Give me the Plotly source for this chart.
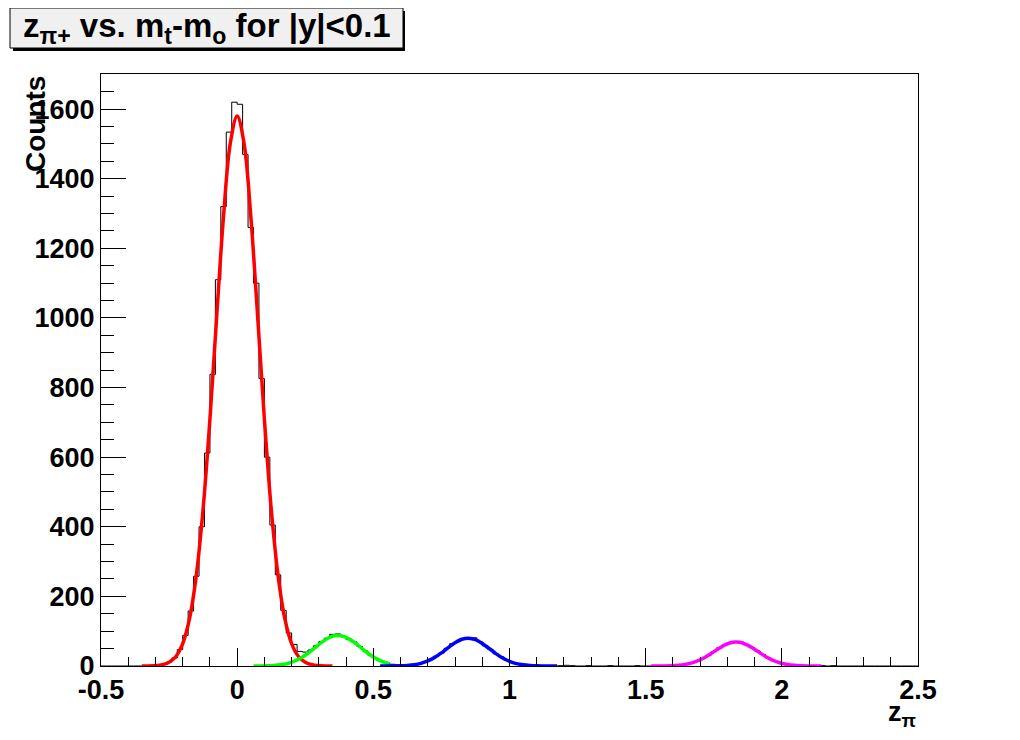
import plotly.graph_objects as go

# ---------------- data ----------------
bin_lo, bin_hi, n_bins = -0.5, 2.5, 150
counts = [
    0, 0, 0, 0, 0, 0, 0, 0,
    0, 1, 2, 5, 11, 23, 47, 88, 158, 258, 400, 612, 838, 1110, 1320, 1534,
    1620, 1614, 1470, 1260, 1100, 826, 600, 405, 262, 160, 95, 62, 42, 40,
    46, 58, 70, 80, 91, 92, 84, 76, 69, 56, 43, 31, 22, 13, 9, 5, 3, 2,
    2, 4, 7, 12, 18, 28, 37, 51, 64, 70, 79, 79, 81, 70, 58, 48, 35, 26,
    16, 10, 6, 3, 2, 1, 1,
    0, 1, 0, 1, 2, 1, 0, 0, 1, 0, 0, 0, 1, 0, 0, 0, 0, 1, 0, 0, 0, 1, 0, 1,
    1, 3, 5, 9, 14, 22, 30, 41, 52, 60, 66, 70, 68, 61, 53, 43, 33, 23, 15,
    10, 6, 3, 2, 1, 0,
    0, 1, 1, 0, 1, 0, 0, 0, 0, 0, 0, 0, 0, 0, 0, 0, 0, 0, 0, 0,
]

red_x = [-0.35, -0.325, -0.3, -0.275, -0.25, -0.225, -0.2, -0.175, -0.15, -0.125,
         -0.1, -0.075, -0.05, -0.025, 0.0, 0.025, 0.05, 0.075, 0.1, 0.125, 0.15,
         0.175, 0.2, 0.225, 0.25, 0.275, 0.3, 0.325, 0.35]
red_y = [0.1, 0.3, 1.2, 3.7, 10.6, 27.3, 64, 136, 261, 452, 709, 1007, 1293, 1503,
         1580, 1503, 1293, 1007, 709, 452, 261, 136, 64, 27.3, 10.6, 3.7, 1.2, 0.3, 0.1]

green_x = [0.06, 0.085, 0.11, 0.135, 0.16, 0.185, 0.21, 0.235, 0.26, 0.285, 0.31,
           0.335, 0.36, 0.385, 0.41, 0.435, 0.46, 0.485, 0.51, 0.535, 0.56]
green_y = [0.08, 0.24, 0.65, 1.6, 3.6, 7.3, 13.7, 23.4, 36.6, 52.1, 68, 80.5, 87.4,
           86.6, 78, 64.8, 48.9, 33.7, 21.2, 12.2, 6.4]

blue_x = [0.525, 0.55, 0.575, 0.6, 0.625, 0.65, 0.675, 0.7, 0.725, 0.75, 0.775, 0.8,
          0.825, 0.85, 0.875, 0.9, 0.925, 0.95, 0.975, 1.0, 1.025, 1.05, 1.075, 1.1,
          1.125, 1.15, 1.175]
blue_y = [0.02, 0.08, 0.24, 0.65, 1.6, 3.7, 7.7, 14.5, 24.5, 37.8, 52.8, 66.8, 76.8,
          80, 75.6, 64.8, 50.3, 35.5, 22.7, 13.2, 6.9, 3.3, 1.4, 0.56, 0.2, 0.07, 0.02]

magenta_x = [1.52, 1.545, 1.57, 1.595, 1.62, 1.645, 1.67, 1.695, 1.72, 1.745, 1.77,
             1.795, 1.82, 1.845, 1.87, 1.895, 1.92, 1.945, 1.97, 1.995, 2.02, 2.045,
             2.07, 2.095, 2.12, 2.145]
magenta_y = [0.03, 0.11, 0.32, 0.86, 2.1, 4.5, 8.9, 15.9, 25.9, 38.2, 51.1, 62, 68.2,
             68.1, 61.6, 50.6, 37.7, 25.4, 15.6, 8.7, 4.4, 2.0, 0.83, 0.31, 0.1, 0.03]

x_tick_vals = [-0.5, 0, 0.5, 1, 1.5, 2, 2.5]
x_tick_text = ["-0.5", "0", "0.5", "1", "1.5", "2", "2.5"]
y_tick_vals = [0, 200, 400, 600, 800, 1000, 1200, 1400, 1600]
y_tick_text = ["0", "200", "400", "600", "800", "1000", "1200", "1400", "1600"]

title_text = "z<sub>π+</sub> vs. m<sub>t</sub>-m<sub>o</sub> for |y|&lt;0.1"
x_title = "z<sub>π</sub>"
y_title = "Counts"

# ---------------- layout geometry ----------------
# page body has an 8px margin; the figure is sized to fit inside the window
OFF = 8
W, H = 1020 - 2 * OFF, 740 - 2 * OFF
# plot frame in screenshot pixels
L_img, R_img, T_img, B_img = 101, 918, 74, 666
y_max = 1701


def px2x(px):
    return (px - L_img) / (R_img - L_img)


def py2y(py):
    return (B_img - py) / (B_img - T_img)


FONT = "Liberation Sans, Arial, Helvetica, sans-serif"

# histogram step outline (edges derived from range and bin count)
bw = (bin_hi - bin_lo) / n_bins
edges = [bin_lo + bw * i for i in range(n_bins + 1)]
hist_x = edges
hist_y = counts + [counts[-1]]

fig = go.Figure()
fig.add_trace(go.Scatter(x=hist_x, y=hist_y, mode="lines", line=dict(color="black", width=1, shape="hv"),
                         showlegend=False, hoverinfo="skip"))
for cx, cy, col in [(red_x, red_y, "#ff0000"), (green_x, green_y, "#00ff00"),
                    (blue_x, blue_y, "#0000ff"), (magenta_x, magenta_y, "#ff00ff")]:
    fig.add_trace(go.Scatter(x=cx, y=cy, mode="lines",
                             line=dict(color=col, width=3.5, shape="spline"),
                             showlegend=False, hoverinfo="skip"))

axis_common = dict(showline=True, linecolor="black", linewidth=1, mirror=True,
                   showgrid=False, zeroline=False, ticks="inside", tickcolor="black",
                   tickwidth=1, tickmode="array",
                   tickfont=dict(family=FONT, size=27, color="black", weight="bold"))

fig.update_xaxes(range=[bin_lo, bin_hi], tickvals=x_tick_vals, ticktext=x_tick_text,
                 ticklen=18,
                 minor=dict(ticks="inside", ticklen=9, tickmode="linear", tick0=-0.5, dtick=0.1,
                            tickcolor="black", tickwidth=1, showgrid=False),
                 **axis_common)
fig.update_yaxes(range=[0, y_max], tickvals=y_tick_vals, ticktext=y_tick_text,
                 ticklen=25,
                 minor=dict(ticks="inside", ticklen=13, tickmode="linear", tick0=0, dtick=50,
                            tickcolor="black", tickwidth=1, showgrid=False),
                 **axis_common)

shapes = [
    # title box shadow
    dict(type="rect", xref="paper", yref="paper", x0=px2x(13), x1=px2x(405), y0=py2y(51), y1=py2y(11),
         line=dict(width=0), fillcolor="black", layer="above"),
    # title box
    dict(type="rect", xref="paper", yref="paper", x0=px2x(10), x1=px2x(403), y0=py2y(48), y1=py2y(8),
         line=dict(color="black", width=1), fillcolor="#f0f0f0", layer="above"),
]

annotations = [
    dict(text="<b>" + title_text + "</b>", xref="paper", yref="paper",
         x=px2x(207), y=py2y(28), xanchor="center", yanchor="middle", showarrow=False,
         font=dict(family=FONT, size=33, color="black")),
    dict(text="<b>" + y_title + "</b>", xref="paper", yref="paper", textangle=-90,
         x=px2x(35), y=1.0, xanchor="center", yanchor="top", showarrow=False,
         font=dict(family=FONT, size=28, color="black")),
    dict(text="<b>" + x_title + "</b>", xref="paper", yref="paper",
         x=1.0, y=py2y(714), xanchor="right", yanchor="middle", showarrow=False,
         font=dict(family=FONT, size=27, color="black")),
]

fig.update_layout(width=W, height=H, autosize=False,
                  margin=dict(l=L_img - OFF, r=W - (R_img - OFF), t=T_img - OFF, b=H - (B_img - OFF), pad=0),
                  paper_bgcolor="white", plot_bgcolor="white",
                  shapes=shapes, annotations=annotations,
                  font=dict(family=FONT, color="black"))

fig.write_html("out.html")
